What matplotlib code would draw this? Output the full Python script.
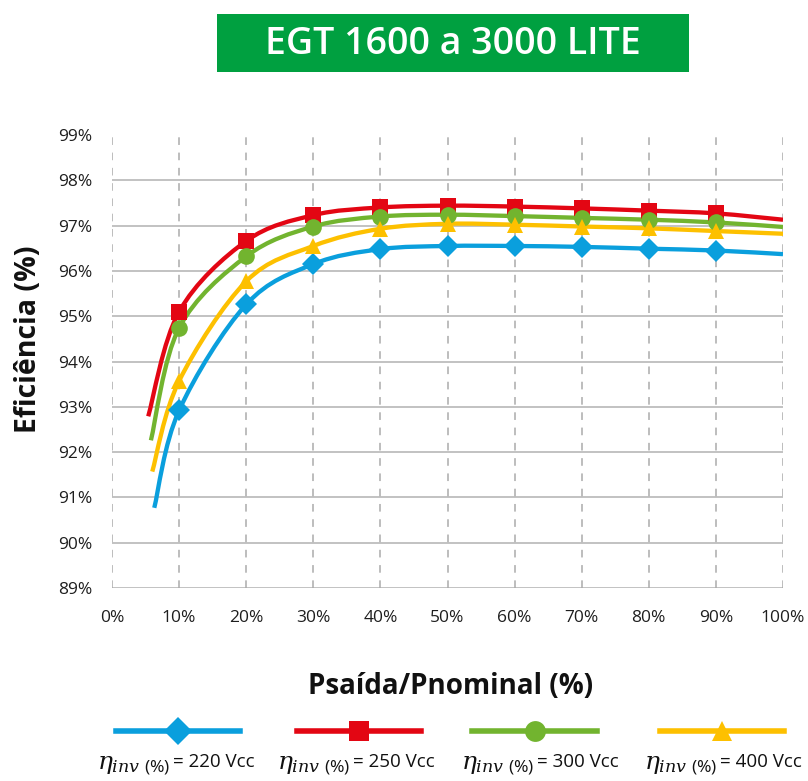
import matplotlib
matplotlib.use("Agg")
import matplotlib.pyplot as plt
from matplotlib.path import Path
from matplotlib.patches import PathPatch, Rectangle
from matplotlib.lines import Line2D
import numpy as np

plt.rcParams['font.family'] = ['Open Sans', 'DejaVu Sans']
plt.rcParams['mathtext.fontset'] = 'custom'
plt.rcParams['mathtext.it'] = 'DejaVu Serif:italic'
plt.rcParams['mathtext.rm'] = 'Open Sans'
plt.rcParams['mathtext.sf'] = 'Open Sans'

# ---- data ----
title = "EGT 1600 a 3000 LITE"
marker_x = [10, 20, 30, 40, 50, 60, 70, 80, 90]
series_names = ["220 Vcc", "250 Vcc", "300 Vcc", "400 Vcc"]

start_x_220 = 6.3
start_y_220 = 90.77
eff_220 = [92.92, 95.26, 96.15, 96.48, 96.55, 96.55, 96.53, 96.49, 96.45]
end_y_220 = 96.37

start_x_250 = 5.4
start_y_250 = 92.79
eff_250 = [95.10, 96.66, 97.23, 97.40, 97.44, 97.42, 97.38, 97.33, 97.27]
end_y_250 = 97.13

start_x_300 = 5.8
start_y_300 = 92.26
eff_300 = [94.74, 96.32, 96.98, 97.20, 97.24, 97.21, 97.17, 97.13, 97.07]
end_y_300 = 96.97

start_x_400 = 6.0
start_y_400 = 91.57
eff_400 = [93.57, 95.77, 96.55, 96.93, 97.04, 97.02, 96.98, 96.94, 96.88]
end_y_400 = 96.82

x_ticks = [0, 10, 20, 30, 40, 50, 60, 70, 80, 90, 100]
x_ticklabels = [f"{v}%" for v in x_ticks]
y_ticks = [89, 90, 91, 92, 93, 94, 95, 96, 97, 98, 99]
y_ticklabels = [f"{v}%" for v in y_ticks]

colors = ["#0A9FDD", "#E30613", "#72B42F", "#FDC000"]
markers = ["D", "s", "o", "^"]
msizes = [11, 11, 12, 12]


def smooth_path(xs, ys):
    """Excel-like smoothed line: cubic Bezier segments through the points."""
    pts = np.column_stack([xs, ys]).astype(float)
    n = len(pts)
    verts = [pts[0]]
    codes = [Path.MOVETO]
    for i in range(n - 1):
        p0 = pts[i - 1] if i > 0 else pts[i]
        p1 = pts[i]
        p2 = pts[i + 1]
        p3 = pts[i + 2] if i + 2 < n else pts[i + 1]
        c1 = p1 + (p2 - p0) / 6.0
        c2 = p2 - (p3 - p1) / 6.0
        verts += [c1, c2, p2]
        codes += [Path.CURVE4] * 3
    return Path(verts, codes)


fig = plt.figure(figsize=(8.08, 7.81), dpi=100)
ax = fig.add_axes([112 / 808, 1 - 588 / 781, (783 - 112) / 808, (588 - 135) / 781])

ax.set_xlim(0, 100)
ax.set_ylim(89, 99)

# grid
for yv in y_ticks[:-1]:
    ax.axhline(yv, color="#BDBDBD", lw=1.3, zorder=1)
for xv in x_ticks:
    ax.axvline(xv, color="#ABABAB", lw=1.1, ls=(0, (5, 5)), zorder=1)

all_data = [
    (start_x_220, start_y_220, eff_220, end_y_220),
    (start_x_250, start_y_250, eff_250, end_y_250),
    (start_x_300, start_y_300, eff_300, end_y_300),
    (start_x_400, start_y_400, eff_400, end_y_400),
]

for (sx, sy, eff, ey), c, m, ms in zip(all_data, colors, markers, msizes):
    xs = [sx] + marker_x + [100]
    ys = [sy] + eff + [ey]
    patch = PathPatch(smooth_path(xs, ys), facecolor="none", edgecolor=c,
                      lw=3.1, zorder=3, capstyle="butt")
    ax.add_patch(patch)
    ax.plot(marker_x, eff, ls="none", marker=m, ms=ms, color=c, zorder=4,
            markeredgewidth=0)

for s in ax.spines.values():
    s.set_visible(False)

ax.set_xticks(x_ticks)
ax.set_xticklabels(x_ticklabels)
ax.set_yticks(y_ticks)
ax.set_yticklabels(y_ticklabels)
ax.tick_params(length=0, labelsize=12.5, labelcolor="#1E1E1E")
ax.tick_params(axis="y", pad=14)
ax.tick_params(axis="x", pad=16)

fig.text(28 / 808, 1 - 339 / 781, "Eficiência (%)", fontsize=20.5, fontweight="bold",
         color="#111111", rotation=90, ha="center", va="center")
fig.text(451 / 808, 1 - 686 / 781, "Psaída/Pnominal (%)", fontsize=20,
         fontweight="bold", color="#111111", ha="center", va="center")

# title box
fig.add_artist(Rectangle((217 / 808, 1 - 72 / 781), 472 / 808, 58 / 781,
                         transform=fig.transFigure, facecolor="#00A040",
                         edgecolor="none"))
fig.text(453 / 808, 1 - 44 / 781, title, color="white", fontsize=27,
         fontweight="semibold", ha="center", va="center")

# legend
leg_spans = [(116, 240), (297, 421), (472, 597), (660, 784)]
label_split = [170, 350, 534, 717]
ly = 1 - 731 / 781
base_y = 1 - 769 / 781
for (x0, x1), sp, c, m, ms, name in zip(leg_spans, label_split, colors, markers, msizes, series_names):
    fig.add_artist(Line2D([x0 / 808, x1 / 808], [ly, ly], transform=fig.transFigure,
                          color=c, lw=4))
    xc = (x0 + x1) / 2 / 808
    fig.add_artist(Line2D([xc], [ly], transform=fig.transFigure, color=c,
                          marker=m, ms=ms + 3, markeredgewidth=0, ls="none"))
    fig.text(sp / 808, base_y, r"$\eta_{inv\ \mathsf{(\%)}}$",
             fontsize=18, color="#111111", ha="right", va="baseline")
    fig.text(sp / 808 + 3 / 808, base_y + 2 / 781, "= " + name,
             fontsize=13.5, color="#111111", ha="left", va="baseline")

fig.savefig("out.png", dpi=100, facecolor="white")
